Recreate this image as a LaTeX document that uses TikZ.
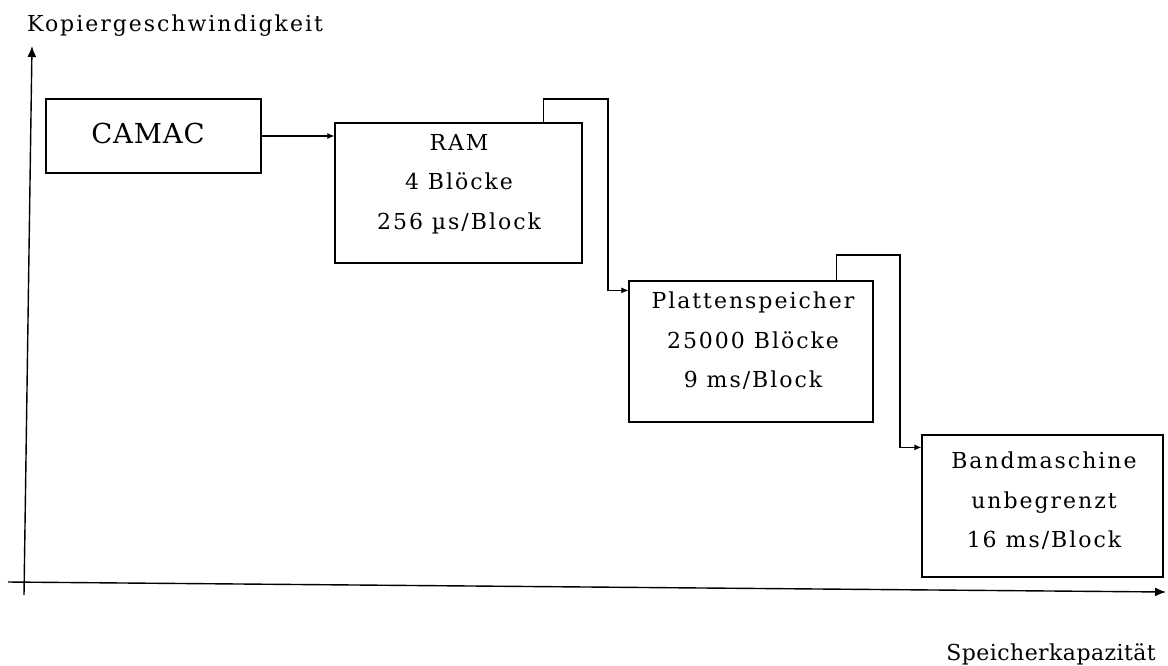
\documentclass[tikz,border=0pt]{standalone}
\usepackage{fontspec}
\newfontfamily\spacedfont{DejaVu Serif}[LetterSpace=9]
\newfontfamily\tightfont{DejaVu Serif}[LetterSpace=2]
\newfontfamily\camacfont{DejaVu Serif}[LetterSpace=3]
\usetikzlibrary{arrows.meta,calc}
\begin{document}
\begin{tikzpicture}[x=1pt,y=-1pt,
  box/.style={draw,line width=1.2pt,inner sep=0pt},
  conn/.style={line width=1.1pt,-{Latex[length=7pt,width=6pt]}},
  axis/.style={line width=1.4pt,-{Latex[length=11pt,width=9pt]}},
  lbl/.style={inner sep=0pt,font=\spacedfont\fontsize{22}{39.5}\selectfont},
  blk/.style={lbl,align=center,anchor=north}]
\useasboundingbox (0,0) rectangle (1168,665);
% axes
\coordinate (xs) at (8,582);
\coordinate (xe) at (1166,592);
\coordinate (ys) at (24,595);
\coordinate (ye) at (32,46);
\draw[axis] (xs) -- (xe);
\draw[axis] (ys) -- (ye);
\node[lbl,anchor=base west] (ylab) at (27,31) {Kopiergeschwindigkeit};
\node[inner sep=0pt,font=\tightfont\fontsize{22}{26}\selectfont,anchor=base east] (xlab) at (1156,660) {Speicherkapazität};
% boxes
\node[box,minimum width=215pt,minimum height=74pt] (camac) at (153.5,136) {};
\node[inner sep=0pt,font=\camacfont\fontsize{27.5}{32}\selectfont] (camact) at (148,133) {CAMAC};
\node[box,minimum width=247pt,minimum height=140pt] (ram) at (458.5,193) {};
\node[blk] (ramt) at (459,134) {RAM\\4 Blöcke\\256 µs/Block};
\node[box,minimum width=244pt,minimum height=141pt] (platten) at (751,351.5) {};
\node[blk] (plattent) at (753,292) {Plattenspeicher\\25000 Blöcke\\9 ms/Block};
\node[box,minimum width=241pt,minimum height=142pt] (band) at (1042.5,506) {};
\node[blk] (bandt) at (1044,452) {Bandmaschine\\unbegrenzt\\16 ms/Block};
% connectors
\draw[conn] (camac.east) -- (ram.west |- camac.east);
\coordinate (r1) at (608,99);
\draw[conn] ([xshift=-39pt]ram.north east) |- (r1) |- ([yshift=-10pt]platten.north west);
\coordinate (p1) at (900,255);
\draw[conn] ([xshift=-37pt]platten.north east) |- (p1) |- ([yshift=-13pt]band.north west);
\end{tikzpicture}
\end{document}
